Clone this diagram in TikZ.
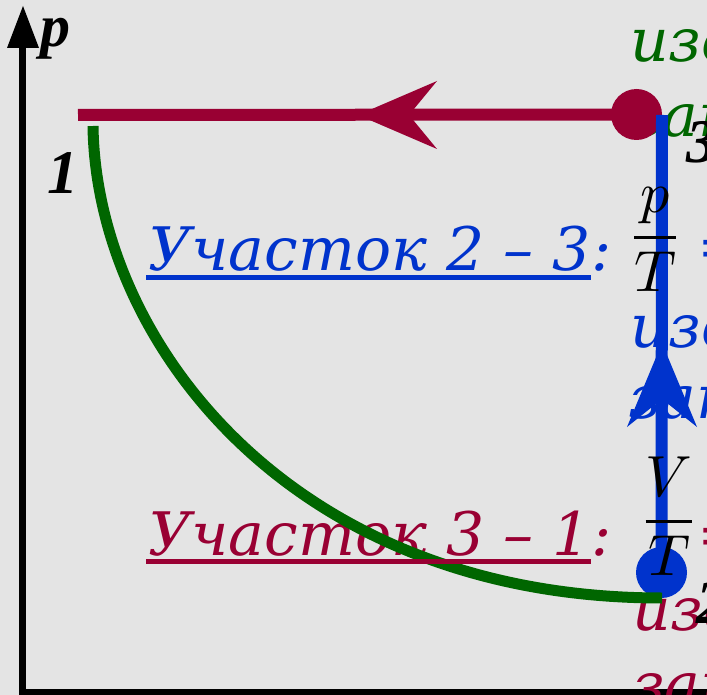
\documentclass[tikz,border=0pt]{standalone}
\usepackage{amsmath}
\usepackage{fontspec}
\setmainfont{DejaVu Serif}
\newfontfamily\numfont{Liberation Serif}
\definecolor{bgc}{RGB}{228,228,228}
\definecolor{crim}{RGB}{153,0,51}
\definecolor{blu}{RGB}{0,51,204}
\definecolor{grn}{RGB}{0,102,0}
\tikzset{
  lbl/.style={inner sep=0pt, anchor=base west, font=\fontsize{60}{64}\selectfont\itshape},
  num/.style={inner sep=0pt, anchor=base west, font=\fontsize{62}{66}\selectfont\numfont\bfseries\itshape},
  frac/.style={inner sep=0pt, anchor=base, font=\fontsize{10}{12}\selectfont},
  dot/.style={circle, inner sep=0pt, minimum size=51pt},
}
\begin{document}
\begin{tikzpicture}[x=1pt,y=-1pt]
\useasboundingbox (0,0) rectangle (707,695);
\fill[bgc] (0,0) rectangle (707,695);
\clip (0,0) rectangle (707,695);
% axes
\coordinate (o) at (22.5,692);
\coordinate (ytop) at (22.5,46);
\coordinate (xend) at (730,692);
\draw[line width=7pt] (o) -- (ytop);
\draw[line width=7pt] (19,692) -- (xend);
\fill (23,6) -- (7,48) -- (39,48) -- cycle;
\node[num, font=\fontsize{60}{64}\selectfont\numfont\bfseries\itshape] (lp) at (40,47) {p};
\node[num] (l1) at (47,194) {1};
% right texts
\node[lbl, text=grn] (g1) at (630,62) {изотерма};
\node[lbl, text=grn] (g2) at (630,137) {закон};
\node[lbl, text=blu] (b1) at (630,347) {изохора};
\node[lbl, text=blu] (b2) at (628,418) {закон};
\node[lbl, text=crim] (r1) at (632,630) {изобара};
\node[lbl, text=crim] (r2) at (632,705) {закон};
% labels
\node[lbl, text=blu] (u23) at (148,270) {Участок 2 – 3};
\node[lbl, text=blu, anchor=base west] (c23) at (u23.base east) {:};
\node[lbl, text=crim] (u31) at (148,555) {Участок 3 – 1};
\node[lbl, text=crim, anchor=base west] (c31) at (u31.base east) {:};
\node[lbl, text=blu] (e23) at (697,268) {=};
\node[lbl, text=crim] (e31) at (697,555) {=};
% crimson isobar 3 -> 1
\coordinate (p1) at (78,115);
\node[dot, fill=crim] (n3) at (636.5,114.5) {};
\draw[crim, line width=12pt] (n3.center) -- (p1);
\fill[crim] (358,115) -- (437,81) -- (409,115) -- (437,149) -- cycle;
% blue isochore 2 -> 3
\node[dot, fill=blu] (n2) at (661.5,572.5) {};
\coordinate (b3) at (662,115);
\draw[blu, line width=12pt] (n2.center) -- (b3);
\fill[blu] (662,343) -- (627,427) -- (662,399) -- (697,427) -- cycle;
% green curve
\coordinate (g1s) at (93,126);
\coordinate (g2e) at (662,598);
\draw[grn, line width=11pt] (g1s) .. controls (96,340) and (290,598) .. (g2e);
% underlines
\draw[blu, line width=5pt] ([yshift=-7pt]u23.base west) ++(-2,0) -- ([yshift=-7pt]u23.base east);
\draw[crim, line width=5pt] ([yshift=-6pt]u31.base west) ++(-2,0) -- ([yshift=-6pt]u31.base east);
% fractions
\node[frac] (f23) at (655,252) {\scalebox{5.8}{$\dfrac{p}{T}$}};
\node[frac] (f31) at (669,536) {\scalebox{5.8}{$\dfrac{V}{T}$}};
\node[num] (l3) at (686,163) {3};
\node[num] (l2) at (696,623) {2};
\end{tikzpicture}
\end{document}
